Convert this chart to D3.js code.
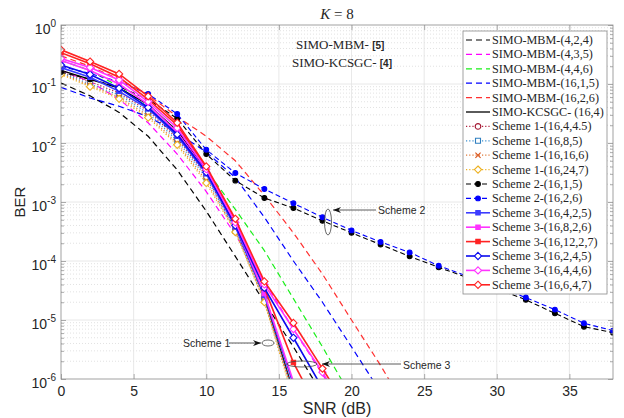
<!DOCTYPE html>
<html>
<head>
<meta charset="utf-8">
<script src="https://cdn.jsdelivr.net/npm/d3@7"></script>
<style>
  body { margin: 0; background: #fff; }
  text { font-family: "Liberation Sans", Arial, sans-serif; fill: #262626; }
  .serif { font-family: "Liberation Serif", "DejaVu Serif", serif; }
</style>
</head>
<body>
<svg id="chart" width="624" height="418"></svg>
<script>
// ---- data: BER versus SNR (dB), one value per 2 dB step starting at 0 dB ----
const snr = d3.range(0, 39, 2);
const xTicks = [0, 5, 10, 15, 20, 25, 30, 35];

const mbm424   = [0.104, 0.063, 0.033, 0.013, 0.0035, 7e-4, 1.2e-4, 2e-5, 3.5e-6, 5.5e-7];
const mbm435   = [0.17, 0.11, 0.055, 0.022, 0.0065, 1.5e-3, 2.8e-4, 4.5e-5, 7e-6, 1.2e-6, 2e-7];
const mbm446   = [0.25, 0.17, 0.09, 0.04, 0.013, 0.0035, 7.5e-4, 1.5e-4, 2.3e-5, 3.5e-6, 5e-7];
const mbm1615  = [0.088, 0.058, 0.042, 0.028, 0.015, 0.007, 0.0026, 5.5e-4, 1e-4, 2e-5, 3.5e-6, 6e-7];
const mbm1626  = [0.30, 0.20, 0.12, 0.065, 0.028, 0.013, 0.0050, 1.3e-3, 3e-4, 6e-5, 1e-5, 1.7e-6, 2.5e-7];
const kcsgc164 = [0.17, 0.12, 0.085, 0.045, 0.016, 0.0035, 4e-4, 2.5e-5, 6e-7];

const s1_16_4_45 = [0.16, 0.11, 0.07, 0.035, 0.012, 0.0028, 3.5e-4, 2.4e-5, 6e-7];
const s1_16_8_5  = [0.155, 0.10, 0.065, 0.032, 0.011, 0.0026, 3.3e-4, 2.2e-5, 5.5e-7];
const s1_16_16_6 = [0.15, 0.095, 0.06, 0.029, 0.010, 0.0023, 3.2e-4, 2.1e-5, 5e-7];
const s1_16_24_7 = [0.145, 0.09, 0.056, 0.027, 0.0093, 0.0021, 3.1e-4, 2e-5, 4.5e-7];

const s2_16_1_5 = [0.16, 0.12, 0.09, 0.055, 0.026, 0.0065, 0.0023, 1.17e-3, 7.9e-4, 4.8e-4,
                   3.0e-4, 1.9e-4, 1.2e-4, 7.8e-5, 5.2e-5, 3.4e-5, 2.2e-5, 1.3e-5, 7.7e-6, 6.1e-6];
const s2_16_2_6 = [0.20, 0.15, 0.11, 0.068, 0.031, 0.0077, 0.0031, 1.66e-3, 9.5e-4, 5.5e-4,
                   3.3e-4, 2.1e-4, 1.4e-4, 8.3e-5, 5.5e-5, 3.7e-5, 2.4e-5, 1.5e-5, 8.8e-6, 6.6e-6];

const s3_16_4_2_5  = [0.19, 0.13, 0.075, 0.038, 0.013, 0.003, 3.8e-4, 2.6e-5, 8e-7];
const s3_16_8_2_6  = [0.25, 0.17, 0.10, 0.045, 0.015, 0.0033, 4.2e-4, 2.8e-5, 9e-7];
const s3_16_12_2_7 = [0.34, 0.22, 0.13, 0.055, 0.020, 0.0038, 4.8e-4, 3.5e-5, 1.9e-6, 2.2e-7];
const s3_16_2_4_5  = [0.21, 0.145, 0.085, 0.040, 0.014, 0.0032, 4e-4, 3.5e-5, 5e-6, 7e-7];
const s3_16_4_4_6  = [0.27, 0.19, 0.117, 0.050, 0.018, 0.0036, 4.5e-4, 4e-5, 7e-6, 1.3e-6, 2e-7];
const s3_16_6_4_7  = [0.38, 0.24, 0.148, 0.062, 0.022, 0.0040, 5.2e-4, 4.5e-5, 8.9e-6, 1.5e-6, 2.5e-7];

// ---- series table: legend label, values and drawing style ----
const series = [
  { label: "SIMO-MBM-(4,2,4)",    values: mbm424,   color: "#000000", dash: "6,4",   width: 1.2 },
  { label: "SIMO-MBM-(4,3,5)",    values: mbm435,   color: "#ff00ff", dash: "6,4",   width: 1.2 },
  { label: "SIMO-MBM-(4,4,6)",    values: mbm446,   color: "#1aef1a", dash: "6,4",   width: 1.2 },
  { label: "SIMO-MBM-(16,1,5)",   values: mbm1615,  color: "#0000ff", dash: "6,4",   width: 1.2 },
  { label: "SIMO-MBM-(16,2,6)",   values: mbm1626,  color: "#ff3030", dash: "6,4",   width: 1.2 },
  { label: "SIMO-KCSGC- (16,4)",  values: kcsgc164, color: "#000000", dash: null,    width: 1.3 },
  { label: "Scheme 1-(16,4,4.5)", values: s1_16_4_45, color: "#b0203c", dash: "1.2,2", width: 1.2, marker: "circle", mcolor: "#a2142f" },
  { label: "Scheme 1-(16,8,5)",   values: s1_16_8_5,  color: "#3a8fd0", dash: "1.2,2", width: 1.2, marker: "square", mcolor: "#2f7fc0" },
  { label: "Scheme 1-(16,16,6)",  values: s1_16_16_6, color: "#e07a3a", dash: "1.2,2", width: 1.2, marker: "x",      mcolor: "#d95319" },
  { label: "Scheme 1-(16,24,7)",  values: s1_16_24_7, color: "#edb120", dash: "1.2,2", width: 1.2, marker: "diamond", mcolor: "#edb120" },
  { label: "Scheme 2-(16,1,5)",   values: s2_16_1_5, color: "#000000", dash: "5,3", width: 1.1, marker: "dot", mcolor: "#000000" },
  { label: "Scheme 2-(16,2,6)",   values: s2_16_2_6, color: "#0000ff", dash: "5,3", width: 1.1, marker: "dot", mcolor: "#0000ff" },
  { label: "Scheme 3-(16,4,2,5)", values: s3_16_4_2_5,  color: "#3c3cff", dash: null, width: 1.6, marker: "fsquare", mcolor: "#3c3cff" },
  { label: "Scheme 3-(16,8,2,6)", values: s3_16_8_2_6,  color: "#ff33ff", dash: null, width: 1.6, marker: "fsquare", mcolor: "#ff33ff" },
  { label: "Scheme 3-(16,12,2,7)",values: s3_16_12_2_7, color: "#ff2222", dash: null, width: 1.6, marker: "fsquare", mcolor: "#ff2222" },
  { label: "Scheme 3-(16,2,4,5)", values: s3_16_2_4_5,  color: "#0a0aee", dash: null, width: 1.6, marker: "diamond", mcolor: "#0a0aee" },
  { label: "Scheme 3-(16,4,4,6)", values: s3_16_4_4_6,  color: "#ff33ff", dash: null, width: 1.6, marker: "diamond", mcolor: "#ff33ff" },
  { label: "Scheme 3-(16,6,4,7)", values: s3_16_6_4_7,  color: "#ff2222", dash: null, width: 1.6, marker: "diamond", mcolor: "#ff2222" }
];

// ---- layout ----
const L = 61, R = 613, T = 25, B = 379;
const svg = d3.select("#chart");
const x = d3.scaleLinear().domain([0, 38]).range([L, R]);
const y = d3.scaleLog().domain([1e-6, 1]).range([B, T]);

const decades = d3.range(-6, 1).map(e => Math.pow(10, e));
const minors = [];
for (let e = -6; e < 0; e++) for (let k = 2; k <= 9; k++) minors.push(k * Math.pow(10, e));

svg.append("rect").attr("x", L).attr("y", T).attr("width", R - L).attr("height", B - T).attr("fill", "#fff");

// grid
const grid = svg.append("g");
grid.selectAll(".gmin").data(minors).join("line")
  .attr("x1", L).attr("x2", R).attr("y1", d => y(d)).attr("y2", d => y(d))
  .attr("stroke", "#cfcfcf").attr("stroke-width", 0.6).attr("stroke-dasharray", "1,2");
grid.selectAll(".gmaj").data(decades.slice(1, -1)).join("line")
  .attr("x1", L).attr("x2", R).attr("y1", d => y(d)).attr("y2", d => y(d))
  .attr("stroke", "#e2e2e2").attr("stroke-width", 0.8);
grid.selectAll(".gx").data(xTicks.slice(1)).join("line")
  .attr("x1", d => x(d)).attr("x2", d => x(d)).attr("y1", T).attr("y2", B)
  .attr("stroke", "#e2e2e2").attr("stroke-width", 0.8);

// curves
svg.append("clipPath").attr("id", "plotclip").append("rect")
  .attr("x", L).attr("y", T).attr("width", R - L).attr("height", B - T);
const plot = svg.append("g").attr("clip-path", "url(#plotclip)");

function markerPath(type) {
  switch (type) {
    case "circle":  return "M2.8,0A2.8,2.8 0 1,1 -2.8,0A2.8,2.8 0 1,1 2.8,0Z";
    case "dot":     return "M2.4,0A2.4,2.4 0 1,1 -2.4,0A2.4,2.4 0 1,1 2.4,0Z";
    case "square":  return "M-2.5,-2.5H2.5V2.5H-2.5Z";
    case "fsquare": return "M-2.2,-2.2H2.2V2.2H-2.2Z";
    case "diamond": return "M0,-3.6L3.6,0L0,3.6L-3.6,0Z";
    case "x":       return "M-2.6,-2.6L2.6,2.6M-2.6,2.6L2.6,-2.6";
  }
}
function markerFill(s) {
  if (s.marker === "dot" || s.marker === "fsquare") return s.mcolor;
  if (s.marker === "x") return "none";
  return "#fff";
}

const line = d3.line().x(d => x(d[0])).y(d => y(d[1]));
series.forEach(s => {
  const pts = s.values.map((v, i) => [snr[i], v]);
  plot.append("path").datum(pts)
    .attr("d", line).attr("fill", "none")
    .attr("stroke", s.color).attr("stroke-width", s.width)
    .attr("stroke-dasharray", s.dash);
  if (s.marker) {
    plot.selectAll(null).data(pts.filter(p => p[1] >= 1e-6)).join("path")
      .attr("transform", p => `translate(${x(p[0])},${y(p[1])})`)
      .attr("d", markerPath(s.marker))
      .attr("fill", markerFill(s))
      .attr("stroke", s.mcolor).attr("stroke-width", 1.1);
  }
});

// axes: ticks point inward, box drawn around the plot
const axCol = "#8a8a8a";
const gB = svg.append("g").attr("transform", `translate(0,${B})`)
  .call(d3.axisBottom(x).tickValues(xTicks).tickSizeInner(-5).tickSizeOuter(0).tickPadding(7));
const gT = svg.append("g").attr("transform", `translate(0,${T})`)
  .call(d3.axisTop(x).tickValues(xTicks).tickSizeInner(-5).tickSizeOuter(0).tickFormat(""));
const gL = svg.append("g").attr("transform", `translate(${L},0)`)
  .call(d3.axisLeft(y).tickValues(decades).tickSizeInner(-5).tickSizeOuter(0).tickFormat(""));
const gLm = svg.append("g").attr("transform", `translate(${L},0)`)
  .call(d3.axisLeft(y).tickValues(minors).tickSizeInner(-3).tickSizeOuter(0).tickFormat(""));
const gR = svg.append("g").attr("transform", `translate(${R},0)`)
  .call(d3.axisRight(y).tickValues(decades).tickSizeInner(-5).tickSizeOuter(0).tickFormat(""));
const gRm = svg.append("g").attr("transform", `translate(${R},0)`)
  .call(d3.axisRight(y).tickValues(minors).tickSizeInner(-3).tickSizeOuter(0).tickFormat(""));
[gB, gT, gL, gLm, gR, gRm].forEach(g => {
  g.select(".domain").remove();
  g.selectAll(".tick line").attr("stroke", axCol).attr("stroke-width", 0.7);
});
gB.selectAll(".tick text").attr("font-size", 14).attr("fill", "#262626")
  .style("font-family", "'Liberation Sans', Arial, sans-serif");

// y tick labels as powers of ten
svg.append("g").selectAll("text").data(decades).join("text")
  .attr("x", L - 5).attr("y", d => y(d) + 9)
  .attr("text-anchor", "end").attr("font-size", 14)
  .each(function (d) {
    const t = d3.select(this);
    t.append("tspan").text("10");
    t.append("tspan").attr("dy", -7).attr("font-size", 10).text(Math.round(Math.log10(d)));
  });

svg.append("rect").attr("x", L).attr("y", T).attr("width", R - L).attr("height", B - T)
  .attr("fill", "none").attr("stroke", axCol).attr("stroke-width", 0.8);

// axis titles and chart title
svg.append("text").attr("x", 337).attr("y", 414).attr("text-anchor", "middle")
  .attr("font-size", 16).text("SNR (dB)");
svg.append("text").attr("transform", "translate(25,202) rotate(-90)").attr("text-anchor", "middle")
  .attr("font-size", 15).text("BER");
const title = svg.append("text").attr("class", "serif").attr("x", 337).attr("y", 19)
  .attr("text-anchor", "middle").attr("font-size", 15);
title.append("tspan").attr("font-style", "italic").text("K");
title.append("tspan").text(" = 8");

// reference notes
const notes = [
  { main: "SIMO-MBM- ", ref: "[5]", x: 296, y: 49 },
  { main: "SIMO-KCSGC- ", ref: "[4]", x: 292, y: 67 }
];
notes.forEach(n => {
  const t = svg.append("text").attr("x", n.x).attr("y", n.y);
  t.append("tspan").attr("class", "serif").attr("font-size", 13)
    .style("font-family", "'Liberation Serif', serif").text(n.main);
  t.append("tspan").attr("font-size", 10).attr("font-weight", "bold").text(n.ref);
});

// scheme annotations: label, arrow and ellipse around the group of curves
function arrowHead(xTip, yTip, dir) {
  const l = 8, w = 3, n = 2.5;
  return `M${xTip},${yTip}L${xTip - dir * l},${yTip - w}L${xTip - dir * (l - n)},${yTip}L${xTip - dir * l},${yTip + w}Z`;
}
const ann = svg.append("g");
const annotations = [
  { text: "Scheme 2", tx: 378, ty: 214, x1: 376, x2: 333, yl: 210, dir: -1, ex: 328, ey: 222, rx: 3.5, ry: 13 },
  { text: "Scheme 1", tx: 183, ty: 347, x1: 229, x2: 261, yl: 343, dir: 1,  ex: 268, ey: 343, rx: 6, ry: 3 },
  { text: "Scheme 3", tx: 403, ty: 369, x1: 401, x2: 322, yl: 364, dir: -1, ex: 302, ey: 364, rx: 15, ry: 3 }
];
annotations.forEach(a => {
  ann.append("text").attr("x", a.tx).attr("y", a.ty).attr("font-size", 10.5).attr("fill", "#111").text(a.text);
  ann.append("line").attr("x1", a.x1).attr("x2", a.x2).attr("y1", a.yl).attr("y2", a.yl)
    .attr("stroke", "#333").attr("stroke-width", 0.8);
  ann.append("path").attr("d", arrowHead(a.x2, a.yl, a.dir)).attr("fill", "#111");
  ann.append("ellipse").attr("cx", a.ex).attr("cy", a.ey).attr("rx", a.rx).attr("ry", a.ry)
    .attr("fill", "none").attr("stroke", "#444").attr("stroke-width", 0.8);
});

// legend
const lg = svg.append("g");
const LX = 463, LY = 31, LW = 144, LH = 263, step = 14.4, first = 40;
lg.append("rect").attr("x", LX).attr("y", LY).attr("width", LW).attr("height", LH)
  .attr("fill", "#fff").attr("stroke", "#8a8a8a").attr("stroke-width", 0.8);
series.forEach((s, i) => {
  const cy = first + i * step;
  lg.append("line").attr("x1", 466).attr("x2", 490).attr("y1", cy).attr("y2", cy)
    .attr("stroke", s.color).attr("stroke-width", s.width).attr("stroke-dasharray", s.dash);
  if (s.marker) {
    lg.append("path").attr("transform", `translate(478,${cy})`).attr("d", markerPath(s.marker))
      .attr("fill", markerFill(s)).attr("stroke", s.mcolor).attr("stroke-width", 1.1);
  }
  lg.append("text").attr("class", "serif").attr("x", 492).attr("y", cy + 4)
    .attr("font-size", 12.2).style("font-family", "'Liberation Serif', serif").attr("fill", "#111")
    .text(s.label);
});
</script>
</body>
</html>
